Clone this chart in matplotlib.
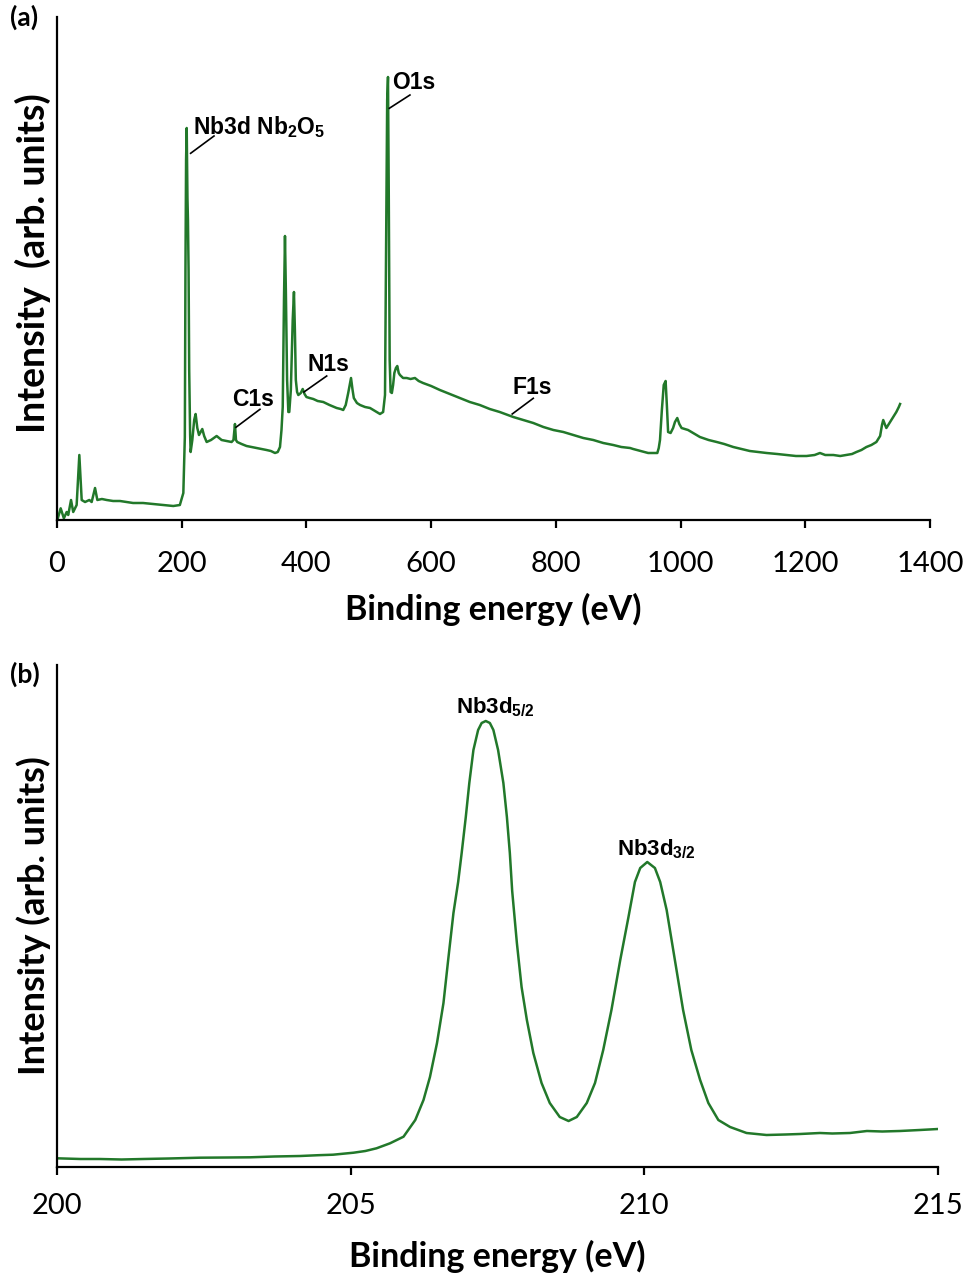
#!/usr/bin/env python3
"""XPS spectra of the Nb2O5 film: (a) survey scan, (b) Nb3d high-resolution scan."""

import matplotlib
matplotlib.use("Agg")
import matplotlib.pyplot as plt

# ---------------------------------------------------------------------------
# Survey spectrum (binding energy in eV, intensity in arb. units)
# ---------------------------------------------------------------------------
survey_be = [
    1, 5.9, 11, 15.5, 18, 22.5, 26, 31.5, 35.8, 39.6, 45, 51.8, 55.6, 61, 64.7,
    72, 79.7, 90, 101, 112, 122, 138, 154.5, 170, 186.5, 197, 202.6, 205, 206,
    207, 208, 208.6, 209.2, 210, 211, 212, 213.5, 214.3, 217, 220, 222.3, 225,
    227.7, 233, 236, 240, 247, 256, 264, 272, 280, 283, 285.4, 287, 289, 296,
    304, 312, 320, 328, 336, 343, 349.6, 354, 357.6, 360, 362, 364, 365.6, 367,
    369, 371, 372.5, 375, 378, 380, 381.5, 383, 385, 387, 391, 394, 397, 400,
    405, 411, 418, 427, 437, 448.5, 455, 459, 463, 467, 471.5, 474, 476, 481,
    486, 494, 502, 510, 518, 523, 526, 527.5, 529.5, 530.8, 532, 533.5, 535,
    537, 539, 541, 543.5, 545.7, 548, 550, 555, 560.8, 567, 574, 580, 587, 600,
    614, 630, 646, 662, 678, 694, 710, 731.7, 748, 763.8, 780, 796, 812, 828,
    844, 860, 876, 892, 905, 919, 924, 936, 948, 958, 962.7, 965, 967, 970, 973,
    976, 978, 980, 984, 988, 991, 994.7, 998, 1001.6, 1012, 1020, 1031, 1045,
    1058, 1070, 1084.5, 1098, 1111, 1125, 1138, 1155, 1170, 1185, 1202, 1215,
    1223.5, 1232, 1245, 1256, 1266, 1275, 1282, 1290, 1298, 1306, 1314, 1320,
    1323, 1325, 1328, 1330, 1334, 1338, 1342, 1346, 1350, 1352,
]
survey_int = [
    1, 11.7, 1.7, 8, 5, 20, 8, 15, 65, 20, 18, 20, 18, 32, 20,
    21, 20, 19, 19, 18, 17, 17, 16, 15, 14, 15, 27, 83, 250,
    360, 392, 360, 322, 300, 250, 150, 85, 68, 80, 100, 106, 92,
    85, 91, 84, 78, 80, 84, 80, 79, 78, 80, 96, 80, 78, 76,
    74, 73, 72, 71, 70, 69, 67, 68, 73, 90, 113, 220, 284, 230,
    140, 108, 108, 130, 200, 228, 190, 140, 128, 125, 127, 131, 126, 123,
    122, 121, 119, 118, 115, 112, 111, 110, 115, 127, 142, 130, 122, 117,
    115, 113, 112, 109, 106, 108, 125, 250, 420, 443, 330, 160, 128,
    127, 135, 147, 152, 154, 147, 145, 142, 142, 141, 142, 139, 137, 134,
    130, 126, 122, 118, 115, 111, 108, 103, 100, 97, 93, 90, 88, 85,
    82, 80, 77, 75, 73, 72, 71, 69, 67, 67, 67, 72, 80, 110, 135,
    139, 115, 88, 87, 92, 98, 102, 96, 92, 90, 87, 83, 80,
    78, 76, 73, 71, 69, 68, 67, 66, 65, 64, 64, 65,
    67, 65, 65, 64, 65, 66, 68, 70, 73, 75, 78, 84,
    95, 100, 95, 92, 96, 100, 104, 108, 113, 116,
]

# peak labels: (text, x, y) and leader line end points
survey_labels = ["Nb3d Nb$_\\mathbf{2}$O$_\\mathbf{5}$", "C1s", "N1s", "O1s", "F1s"]
survey_label_xy = [(218, 386), (280.6, 114), (402.5, 149), (537, 431), (731, 126)]
survey_leaders = [
    ((214.3, 366.7), (251.8, 384)),
    ((287, 92.7), (325.5, 110.7)),
    ((396, 128), (432.5, 144)),
    ((532.9, 411.7), (566, 425)),
    ((730, 106), (763.8, 121.7)),
]

# ---------------------------------------------------------------------------
# Nb3d high-resolution spectrum
# ---------------------------------------------------------------------------
nb3d_be = [
    200.0, 200.4, 200.73, 201.1, 201.47, 201.9, 202.43, 202.9, 203.29, 203.7,
    204.14, 204.45, 204.7, 205.05, 205.25, 205.44, 205.67, 205.9, 206.1,
    206.24, 206.35, 206.47, 206.58, 206.66, 206.75, 206.83, 206.89, 206.96,
    207.02, 207.09, 207.17, 207.23, 207.3, 207.37, 207.43, 207.51, 207.6,
    207.66, 207.71, 207.75, 207.83, 207.91, 208.0, 208.11, 208.25, 208.39,
    208.56, 208.71, 208.85, 209.02, 209.16, 209.3, 209.44, 209.59, 209.73,
    209.84, 209.93, 210.05, 210.18, 210.27, 210.38, 210.52, 210.66, 210.8,
    210.95, 211.09, 211.26, 211.46, 211.74, 212.08, 212.4, 212.65, 212.99,
    213.2, 213.5, 213.79, 214.05, 214.35, 214.69, 215.0,
]
nb3d_int = [
    8.7, 8, 8, 7.5, 8, 8.5, 9.3, 9.5, 9.7, 10.5,
    11, 11.8, 12.3, 14.3, 16, 18.7, 23.7, 30.3, 47,
    67, 90, 124, 164, 207, 254, 285, 314, 350,
    384, 417, 437, 444, 446, 444, 437, 417, 384,
    350, 314, 276, 224, 180, 147, 114, 84, 64,
    50, 46, 50, 64, 84, 117, 157, 207, 250,
    285, 299, 305, 299, 285, 257, 207, 157, 117,
    87, 64, 47, 40, 34, 32, 32.5, 33, 34,
    33.5, 34, 36, 35.5, 36, 37, 38,
]

nb3d_labels = ["Nb3d$_\\mathbf{5/2}$", "Nb3d$_\\mathbf{3/2}$"]
nb3d_label_xy = [(207.46, 454), (210.2, 312)]

LINE_COLOR = "#22782a"
LABEL_FONT = ["Liberation Sans", "DejaVu Sans"]
AXIS_FONT = ["Lato", "DejaVu Sans"]

plt.rcParams["mathtext.fontset"] = "custom"
plt.rcParams["mathtext.rm"] = "Liberation Sans"
plt.rcParams["mathtext.bf"] = "Liberation Sans:bold"


def style_axes(ax, xlim, ylim, xticks):
    ax.set_xlim(*xlim)
    ax.set_ylim(*ylim)
    for side in ("top", "right"):
        ax.spines[side].set_visible(False)
    for side in ("left", "bottom"):
        ax.spines[side].set_linewidth(1.6)
    ax.set_yticks([])
    ax.set_xticks(xticks)
    ax.tick_params(axis="x", direction="out", length=6, width=1.6, pad=16,
                   labelsize=21)
    for lbl in ax.get_xticklabels():
        lbl.set_family(AXIS_FONT)
    ax.set_xlabel("Binding energy (eV)", family=AXIS_FONT, fontsize=24.5,
                  fontweight="bold")
    ax.xaxis.set_label_coords(0.5, -0.145)


fig = plt.figure(figsize=(9.68, 12.76), dpi=100)

# (a) survey
ax1 = fig.add_axes([57 / 968, 1 - 520 / 1276, 873 / 968, 503 / 1276])
ax1.plot(survey_be, survey_int, color=LINE_COLOR, lw=1.8)
style_axes(ax1, (0, 1400), (0, 503), range(0, 1401, 200))
ax1.set_ylabel("Intensity  (arb. units)", family=AXIS_FONT, fontsize=27,
               fontweight="bold")
ax1.yaxis.set_label_coords(-0.007, 0.51)
for text, (x, y) in zip(survey_labels, survey_label_xy):
    ax1.text(x, y, text, family=LABEL_FONT, fontsize=16.5, fontweight="bold",
             ha="left", va="baseline")
for (x0, y0), (x1, y1) in survey_leaders:
    ax1.plot([x0, x1], [y0, y1], color="black", lw=1.2)

# (b) Nb3d region
ax2 = fig.add_axes([57 / 968, 1 - 1167 / 1276, 881 / 968, 502 / 1276])
ax2.plot(nb3d_be, nb3d_int, color=LINE_COLOR, lw=1.8)
style_axes(ax2, (200, 215), (0, 502), [200, 205, 210, 215])
ax2.tick_params(axis="x", pad=13)
ax2.set_ylabel("Intensity (arb. units)", family=AXIS_FONT, fontsize=26,
               fontweight="bold")
ax2.yaxis.set_label_coords(-0.007, 0.5)
for text, (x, y) in zip(nb3d_labels, nb3d_label_xy):
    ax2.text(x, y, text, family=LABEL_FONT, fontsize=16, fontweight="bold",
             ha="center", va="baseline")

fig.text(10 / 968, 1 - 5 / 1276, "(a)", family=AXIS_FONT, fontsize=19,
         fontweight="bold", va="top", ha="left")
fig.text(10 / 968, 1 - 662 / 1276, "(b)", family=AXIS_FONT, fontsize=19,
         fontweight="bold", va="top", ha="left")

fig.savefig("out.png", dpi=100)
